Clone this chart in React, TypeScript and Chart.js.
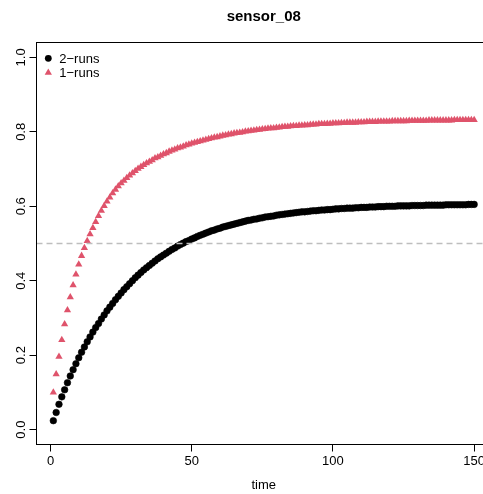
import React, { useEffect, useRef } from "react";
import { Chart, registerables } from "chart.js";

Chart.register(...registerables);

const TITLE = "sensor_08";
const X_LABEL = "time";
const SERIES_NAMES = ["2−runs", "1−runs"];
const SERIES_COLORS = ["#000000", "#DF536B"];
const X_TICKS = [0, 50, 100, 150];
const X_TICK_LABELS = ["0", "50", "100", "150"];
const Y_TICKS = [0, 0.2, 0.4, 0.6, 0.8, 1.0];
const Y_TICK_LABELS = ["0.0", "0.2", "0.4", "0.6", "0.8", "1.0"];
const REF_LINE = 0.5;

const time = Array.from({ length: 150 }, (_, i) => i + 1);

const runs2 = [
  0.024, 0.046, 0.068, 0.088, 0.107, 0.126, 0.144, 0.161, 0.177, 0.193,
  0.208, 0.222, 0.236, 0.249, 0.262, 0.274, 0.285, 0.297, 0.308, 0.319,
  0.329, 0.339, 0.349, 0.358, 0.367, 0.376, 0.384, 0.392, 0.400, 0.408,
  0.415, 0.422, 0.429, 0.435, 0.441, 0.447, 0.453, 0.459, 0.464, 0.469,
  0.474, 0.479, 0.484, 0.488, 0.493, 0.497, 0.501, 0.505, 0.508, 0.512,
  0.515, 0.519, 0.522, 0.525, 0.528, 0.531, 0.534, 0.536, 0.539, 0.541,
  0.544, 0.546, 0.548, 0.550, 0.552, 0.554, 0.556, 0.558, 0.560, 0.562,
  0.563, 0.565, 0.566, 0.568, 0.569, 0.571, 0.572, 0.573, 0.574, 0.576,
  0.577, 0.578, 0.579, 0.580, 0.581, 0.582, 0.583, 0.584, 0.585, 0.585,
  0.586, 0.587, 0.588, 0.588, 0.589, 0.590, 0.590, 0.591, 0.591, 0.592,
  0.593, 0.593, 0.594, 0.594, 0.595, 0.595, 0.595, 0.596, 0.596, 0.597,
  0.597, 0.597, 0.598, 0.598, 0.598, 0.599, 0.599, 0.599, 0.600, 0.600,
  0.600, 0.600, 0.601, 0.601, 0.601, 0.601, 0.601, 0.602, 0.602, 0.602,
  0.602, 0.602, 0.603, 0.603, 0.603, 0.603, 0.603, 0.603, 0.603, 0.604,
  0.604, 0.604, 0.604, 0.604, 0.604, 0.604, 0.604, 0.605, 0.605, 0.605,
];

const runs1 = [
  0.100, 0.149, 0.196, 0.241, 0.283, 0.321, 0.356, 0.388, 0.417, 0.444,
  0.467, 0.488, 0.507, 0.525, 0.542, 0.558, 0.574, 0.588, 0.601, 0.613,
  0.624, 0.635, 0.645, 0.654, 0.662, 0.669, 0.676, 0.683, 0.689, 0.695,
  0.701, 0.706, 0.711, 0.716, 0.720, 0.724, 0.729, 0.732, 0.736, 0.740,
  0.743, 0.747, 0.750, 0.753, 0.756, 0.758, 0.761, 0.764, 0.766, 0.769,
  0.771, 0.773, 0.775, 0.777, 0.779, 0.781, 0.783, 0.785, 0.786, 0.788,
  0.790, 0.791, 0.793, 0.794, 0.796, 0.797, 0.798, 0.799, 0.801, 0.802,
  0.803, 0.804, 0.805, 0.806, 0.807, 0.808, 0.809, 0.810, 0.810, 0.811,
  0.812, 0.813, 0.814, 0.814, 0.815, 0.816, 0.816, 0.817, 0.817, 0.818,
  0.818, 0.819, 0.820, 0.820, 0.821, 0.821, 0.821, 0.822, 0.822, 0.823,
  0.823, 0.823, 0.824, 0.824, 0.825, 0.825, 0.825, 0.825, 0.826, 0.826,
  0.826, 0.827, 0.827, 0.827, 0.827, 0.828, 0.828, 0.828, 0.828, 0.828,
  0.829, 0.829, 0.829, 0.829, 0.829, 0.829, 0.830, 0.830, 0.830, 0.830,
  0.830, 0.830, 0.830, 0.831, 0.831, 0.831, 0.831, 0.831, 0.831, 0.831,
  0.831, 0.831, 0.832, 0.832, 0.832, 0.832, 0.832, 0.832, 0.832, 0.832,
];

const FONT = "'Liberation Sans', Arial, Helvetica, sans-serif";

function drawTriangle(ctx: CanvasRenderingContext2D, x: number, y: number, r: number) {
  let rad = 0;
  const step = (2 * Math.PI) / 3;
  ctx.beginPath();
  ctx.moveTo(x + Math.sin(rad) * r, y - Math.cos(rad) * r);
  rad += step;
  ctx.lineTo(x + Math.sin(rad) * r, y - Math.cos(rad) * r);
  rad += step;
  ctx.lineTo(x + Math.sin(rad) * r, y - Math.cos(rad) * r);
  ctx.closePath();
  ctx.fill();
}

const decorPlugin = {
  id: "decor",
  afterDatasetsDraw(chart: any) {
    const ctx: CanvasRenderingContext2D = chart.ctx;
    const xs = chart.scales.x;
    const ys = chart.scales.y;
    const a = chart.chartArea;

    // reference dashed line (drawn over the points)
    ctx.save();
    ctx.beginPath();
    ctx.rect(a.left, a.top, a.right - a.left, a.bottom - a.top);
    ctx.clip();
    const yr = ys.getPixelForValue(REF_LINE);
    ctx.strokeStyle = "#BEBEBE";
    ctx.lineWidth = 1.5;
    ctx.setLineDash([6, 4]);
    ctx.beginPath();
    ctx.moveTo(a.left, yr);
    ctx.lineTo(a.right, yr);
    ctx.stroke();
    ctx.restore();

    ctx.save();
    // frame
    ctx.strokeStyle = "#000";
    ctx.lineWidth = 1;
    ctx.setLineDash([]);
    ctx.strokeRect(a.left, a.top, a.right - a.left, a.bottom - a.top);

    // y ticks and labels
    ctx.fillStyle = "#000";
    ctx.font = `13px ${FONT}`;
    Y_TICKS.forEach((v, i) => {
      const py = Math.floor(ys.getPixelForValue(v)) + 0.5;
      ctx.beginPath();
      ctx.moveTo(a.left, py);
      ctx.lineTo(a.left - 7, py);
      ctx.stroke();
      ctx.save();
      ctx.translate(25.3, ys.getPixelForValue(v));
      ctx.rotate(-Math.PI / 2);
      ctx.textAlign = "center";
      ctx.textBaseline = "alphabetic";
      ctx.fillText(Y_TICK_LABELS[i], 0, 0);
      ctx.restore();
    });

    // x ticks and labels
    X_TICKS.forEach((v, i) => {
      const px = Math.floor(xs.getPixelForValue(v)) + 0.5;
      ctx.beginPath();
      ctx.moveTo(px, a.bottom);
      ctx.lineTo(px, a.bottom + 7);
      ctx.stroke();
      ctx.textAlign = "center";
      ctx.textBaseline = "alphabetic";
      ctx.fillText(X_TICK_LABELS[i], xs.getPixelForValue(v), 465.3);
    });

    // axis label
    ctx.textAlign = "center";
    ctx.fillText(X_LABEL, (a.left + a.right) / 2, 489);

    // title
    ctx.font = `bold 15px ${FONT}`;
    ctx.fillText(TITLE, (a.left + a.right) / 2, 20.8);

    // legend
    ctx.font = `13px ${FONT}`;
    ctx.textAlign = "left";
    const rows = [58.3, 72.7];
    ctx.fillStyle = SERIES_COLORS[0];
    ctx.beginPath();
    ctx.arc(48.3, rows[0], 3.4, 0, Math.PI * 2);
    ctx.fill();
    ctx.fillStyle = SERIES_COLORS[1];
    drawTriangle(ctx, 48.3, rows[1], 4.2);
    ctx.fillStyle = "#000";
    ctx.fillText(SERIES_NAMES[0], 59.3, rows[0] + 4.7);
    ctx.fillText(SERIES_NAMES[1], 59.3, rows[1] + 4.7);
    ctx.restore();
  },
};

export default function App() {
  const canvasRef = useRef<HTMLCanvasElement | null>(null);

  useEffect(() => {
    const canvas = canvasRef.current;
    if (!canvas) return;
    const chart = new Chart(canvas, {
      type: "scatter",
      data: {
        datasets: [
          {
            label: SERIES_NAMES[0],
            data: time.map((t, i) => ({ x: t, y: runs2[i] })),
            pointStyle: "circle",
            pointRadius: 3.3,
            borderWidth: 0.6,
            backgroundColor: SERIES_COLORS[0],
            borderColor: SERIES_COLORS[0],
            showLine: false,
          },
          {
            label: SERIES_NAMES[1],
            data: time.map((t, i) => ({ x: t, y: runs1[i] })),
            pointStyle: "triangle",
            pointRadius: 4.2,
            borderWidth: 0,
            backgroundColor: SERIES_COLORS[1],
            borderColor: SERIES_COLORS[1],
            showLine: false,
          },
        ],
      },
      options: {
        responsive: false,
        animation: false,
        devicePixelRatio: 1,
        layout: { padding: { left: 36.5, top: 42.5, right: 9, bottom: 49.5 } },
        plugins: {
          legend: { display: false },
          tooltip: { enabled: false },
          title: { display: false },
        },
        scales: {
          x: { type: "linear", min: -4.96, max: 155.96, display: false },
          y: { type: "linear", min: -0.04, max: 1.04, display: false },
        },
      },
      plugins: [decorPlugin],
    });
    return () => chart.destroy();
  }, []);

  return (
    <div
      style={{
        position: "absolute",
        left: 0,
        top: 0,
        width: 483,
        height: 494,
        overflow: "hidden",
        background: "#fff",
      }}
    >
      <canvas
        ref={canvasRef}
        width={500}
        height={494}
        style={{ width: 500, height: 494, display: "block" }}
      />
    </div>
  );
}
